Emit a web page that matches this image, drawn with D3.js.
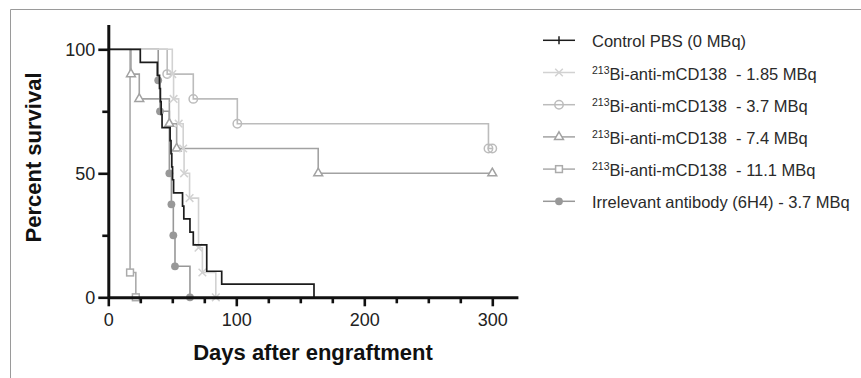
<!DOCTYPE html>
<html><head><meta charset="utf-8">
<script src="https://cdn.jsdelivr.net/npm/d3@7"></script>
<style>
body{margin:0;background:#fff}
svg{display:block}
text{font-family:"Liberation Sans",Arial,Helvetica,sans-serif}
</style>
</head><body>
<svg id="chart" width="861" height="378"></svg>
<script>
// ---- data ----
const legendSup   = ["", "213", "213", "213", "213", ""];
const legendText  = ["Control PBS (0 MBq)", "Bi-anti-mCD138  - 1.85 MBq", "Bi-anti-mCD138  - 3.7 MBq",
                     "Bi-anti-mCD138  - 7.4 MBq", "Bi-anti-mCD138  - 11.1 MBq", "Irrelevant antibody (6H4) - 3.7 MBq"];

const controlDays = [0, 25, 38.3, 40, 40.7, 41.3, 42, 48.3, 49, 49.6, 50.2, 51, 58, 59, 63.8, 66.4, 76.9, 88.6, 160.7];
const controlSurv = [100, 94.7, 89.5, 84.2, 78.9, 73.7, 68.4, 63.2, 57.9, 52.6, 47.4, 42.1, 36.8, 31.6, 26.3, 21.1, 10.5, 5.3, 0];

const dose185Days = [0, 50, 51, 55, 58.5, 59.2, 63.5, 70.5, 73.5, 84];
const dose185Surv = [100, 90, 80, 70, 60, 50, 40, 20, 10, 0];

const dose37Days  = [0, 46, 66.4, 100.8, 297];
const dose37Surv  = [100, 90, 80, 70, 60];
const dose37Censor = [300];

const dose74Days  = [0, 17.7, 24.2, 47.7, 53.4, 164];
const dose74Surv  = [100, 90, 80, 70, 60, 50];
const dose74Censor = [300];

const dose111Days = [0, 17, 21.5];
const dose111Surv = [100, 10, 0];

const irrDays = [0, 39, 40.4, 47.7, 49.3, 50.8, 52.1, 63.8];
const irrSurv = [100, 87.5, 75, 50, 37.5, 25, 12.5, 0];

const xMajorTicks = [0, 100, 200, 300];
const xMinorTicks = [25, 50, 75, 125, 150, 175, 225, 250, 275];
const yMajorTicks = [0, 50, 100];
const yMinorTicks = [25, 75];

// ---- chart ----
const svg = d3.select("#chart");
const x = d3.scaleLinear().domain([0, 320]).range([108.3, 517.9]);
const y = d3.scaleLinear().domain([0, 110]).range([297.3, 24.5]);

// frame
svg.append("path").attr("d", "M10.5,378 V9.5 H861").attr("fill", "none").attr("stroke", "#9a9a9a").attr("stroke-width", 1);

const series = [
  {days: controlDays, surv: controlSurv, censor: [], color: "#1c1c1c", marker: "none", width: 1.7},
  {days: dose185Days, surv: dose185Surv, censor: [], color: "#d2d2d2", marker: "x", width: 1.6},
  {days: dose37Days, surv: dose37Surv, censor: dose37Censor, color: "#bcbcbc", marker: "circle", width: 1.6},
  {days: dose74Days, surv: dose74Surv, censor: dose74Censor, color: "#a2a2a2", marker: "triangle", width: 1.6},
  {days: dose111Days, surv: dose111Surv, censor: [], color: "#ababab", marker: "square", width: 1.6},
  {days: irrDays, surv: irrSurv, censor: [], color: "#989898", marker: "dot", width: 1.6}
];

function drawMarker(g, type, cx, cy, color) {
  if (type === "x") {
    const s = 3.8;
    g.append("path").attr("d", `M${cx-s},${cy-s}L${cx+s},${cy+s}M${cx-s},${cy+s}L${cx+s},${cy-s}`)
      .attr("stroke", color).attr("stroke-width", 1.5).attr("fill", "none");
  } else if (type === "circle") {
    g.append("circle").attr("cx", cx).attr("cy", cy).attr("r", 4.2)
      .attr("fill", "none").attr("stroke", color).attr("stroke-width", 1.5);
  } else if (type === "triangle") {
    g.append("path").attr("d", d3.symbol(d3.symbolTriangle, 34)()).attr("transform", `translate(${cx},${cy})`)
      .attr("fill", "#fff").attr("stroke", color).attr("stroke-width", 1.5);
  } else if (type === "square") {
    g.append("rect").attr("x", cx-3.4).attr("y", cy-3.4).attr("width", 6.8).attr("height", 6.8)
      .attr("fill", "#fff").attr("stroke", color).attr("stroke-width", 1.5);
  } else if (type === "dot") {
    g.append("circle").attr("cx", cx).attr("cy", cy).attr("r", 3.9).attr("fill", color).attr("stroke", "none");
  } else if (type === "tick") {
    g.append("path").attr("d", `M${cx},${cy-4}V${cy+4}`).attr("stroke", color).attr("stroke-width", 1.5);
  }
}

const line = d3.line().x(d => x(d[0])).y(d => y(d[1])).curve(d3.curveStepAfter);
const drawOrder = [4, 5, 3, 2, 1, 0];
drawOrder.forEach(i => {
  const s = series[i];
  const pts = s.days.map((d, k) => [d, s.surv[k]]);
  s.censor.forEach(c => pts.push([c, s.surv[s.surv.length - 1]]));
  const g = svg.append("g");
  g.append("path").attr("d", line(pts)).attr("fill", "none").attr("stroke", s.color).attr("stroke-width", s.width);
  if (s.marker !== "none") {
    pts.slice(1).forEach(p => drawMarker(g, s.marker, x(p[0]), y(p[1]), s.color));
  }
});

// axes
const axisColor = "#111";
svg.append("g").attr("transform", `translate(${x(0)},0)`)
  .call(d3.axisLeft(y).tickValues(yMajorTicks).tickSize(10).tickPadding(3).tickSizeOuter(0));
svg.append("g").attr("transform", `translate(${x(0)},0)`)
  .call(d3.axisLeft(y).tickValues(yMinorTicks).tickSize(6).tickFormat("").tickSizeOuter(0))
  .select(".domain").remove();
svg.append("g").attr("transform", `translate(0,${y(0)})`)
  .call(d3.axisBottom(x).tickValues(xMajorTicks).tickSize(9).tickPadding(7).tickSizeOuter(0));
svg.append("g").attr("transform", `translate(0,${y(0)})`)
  .call(d3.axisBottom(x).tickValues(xMinorTicks).tickSize(6).tickFormat("").tickSizeOuter(0))
  .select(".domain").remove();

svg.selectAll(".domain").attr("stroke", axisColor).attr("stroke-width", 3);
svg.selectAll(".tick line").attr("stroke", axisColor).attr("stroke-width", 2.6);
svg.selectAll(".tick text").attr("fill", "#222").style("font-size", "18px")
  .style("font-family", '"Liberation Sans",Arial,sans-serif');

// axis titles
svg.append("text").attr("x", 313).attr("y", 359.5).attr("text-anchor", "middle")
  .style("font-size", "22px").style("font-weight", "bold").attr("fill", "#111").text("Days after engraftment");
svg.append("text").attr("transform", "translate(41,157.5) rotate(-90)").attr("text-anchor", "middle")
  .style("font-size", "22px").style("font-weight", "bold").attr("fill", "#111").text("Percent survival");

// legend
const legY0 = 47.3, legDy = 32.2;
series.forEach((s, i) => {
  const by = legY0 + i * legDy;
  const ly = by - 7;
  const g = svg.append("g");
  g.append("line").attr("x1", 543).attr("x2", 575).attr("y1", ly).attr("y2", ly)
    .attr("stroke", s.color).attr("stroke-width", 1.5);
  drawMarker(g, s.marker === "none" ? "tick" : s.marker, 559, ly, s.color);
  const t = g.append("text").attr("x", 592).attr("y", by).attr("fill", "#2a2a2a")
    .style("font-size", "16.5px").style("white-space", "pre");
  if (legendSup[i]) {
    t.append("tspan").style("font-size", "10.5px").attr("dy", -6).text(legendSup[i]);
    t.append("tspan").attr("dy", 6).text(legendText[i]);
  } else {
    t.text(legendText[i]);
  }
});
</script>
</body></html>
